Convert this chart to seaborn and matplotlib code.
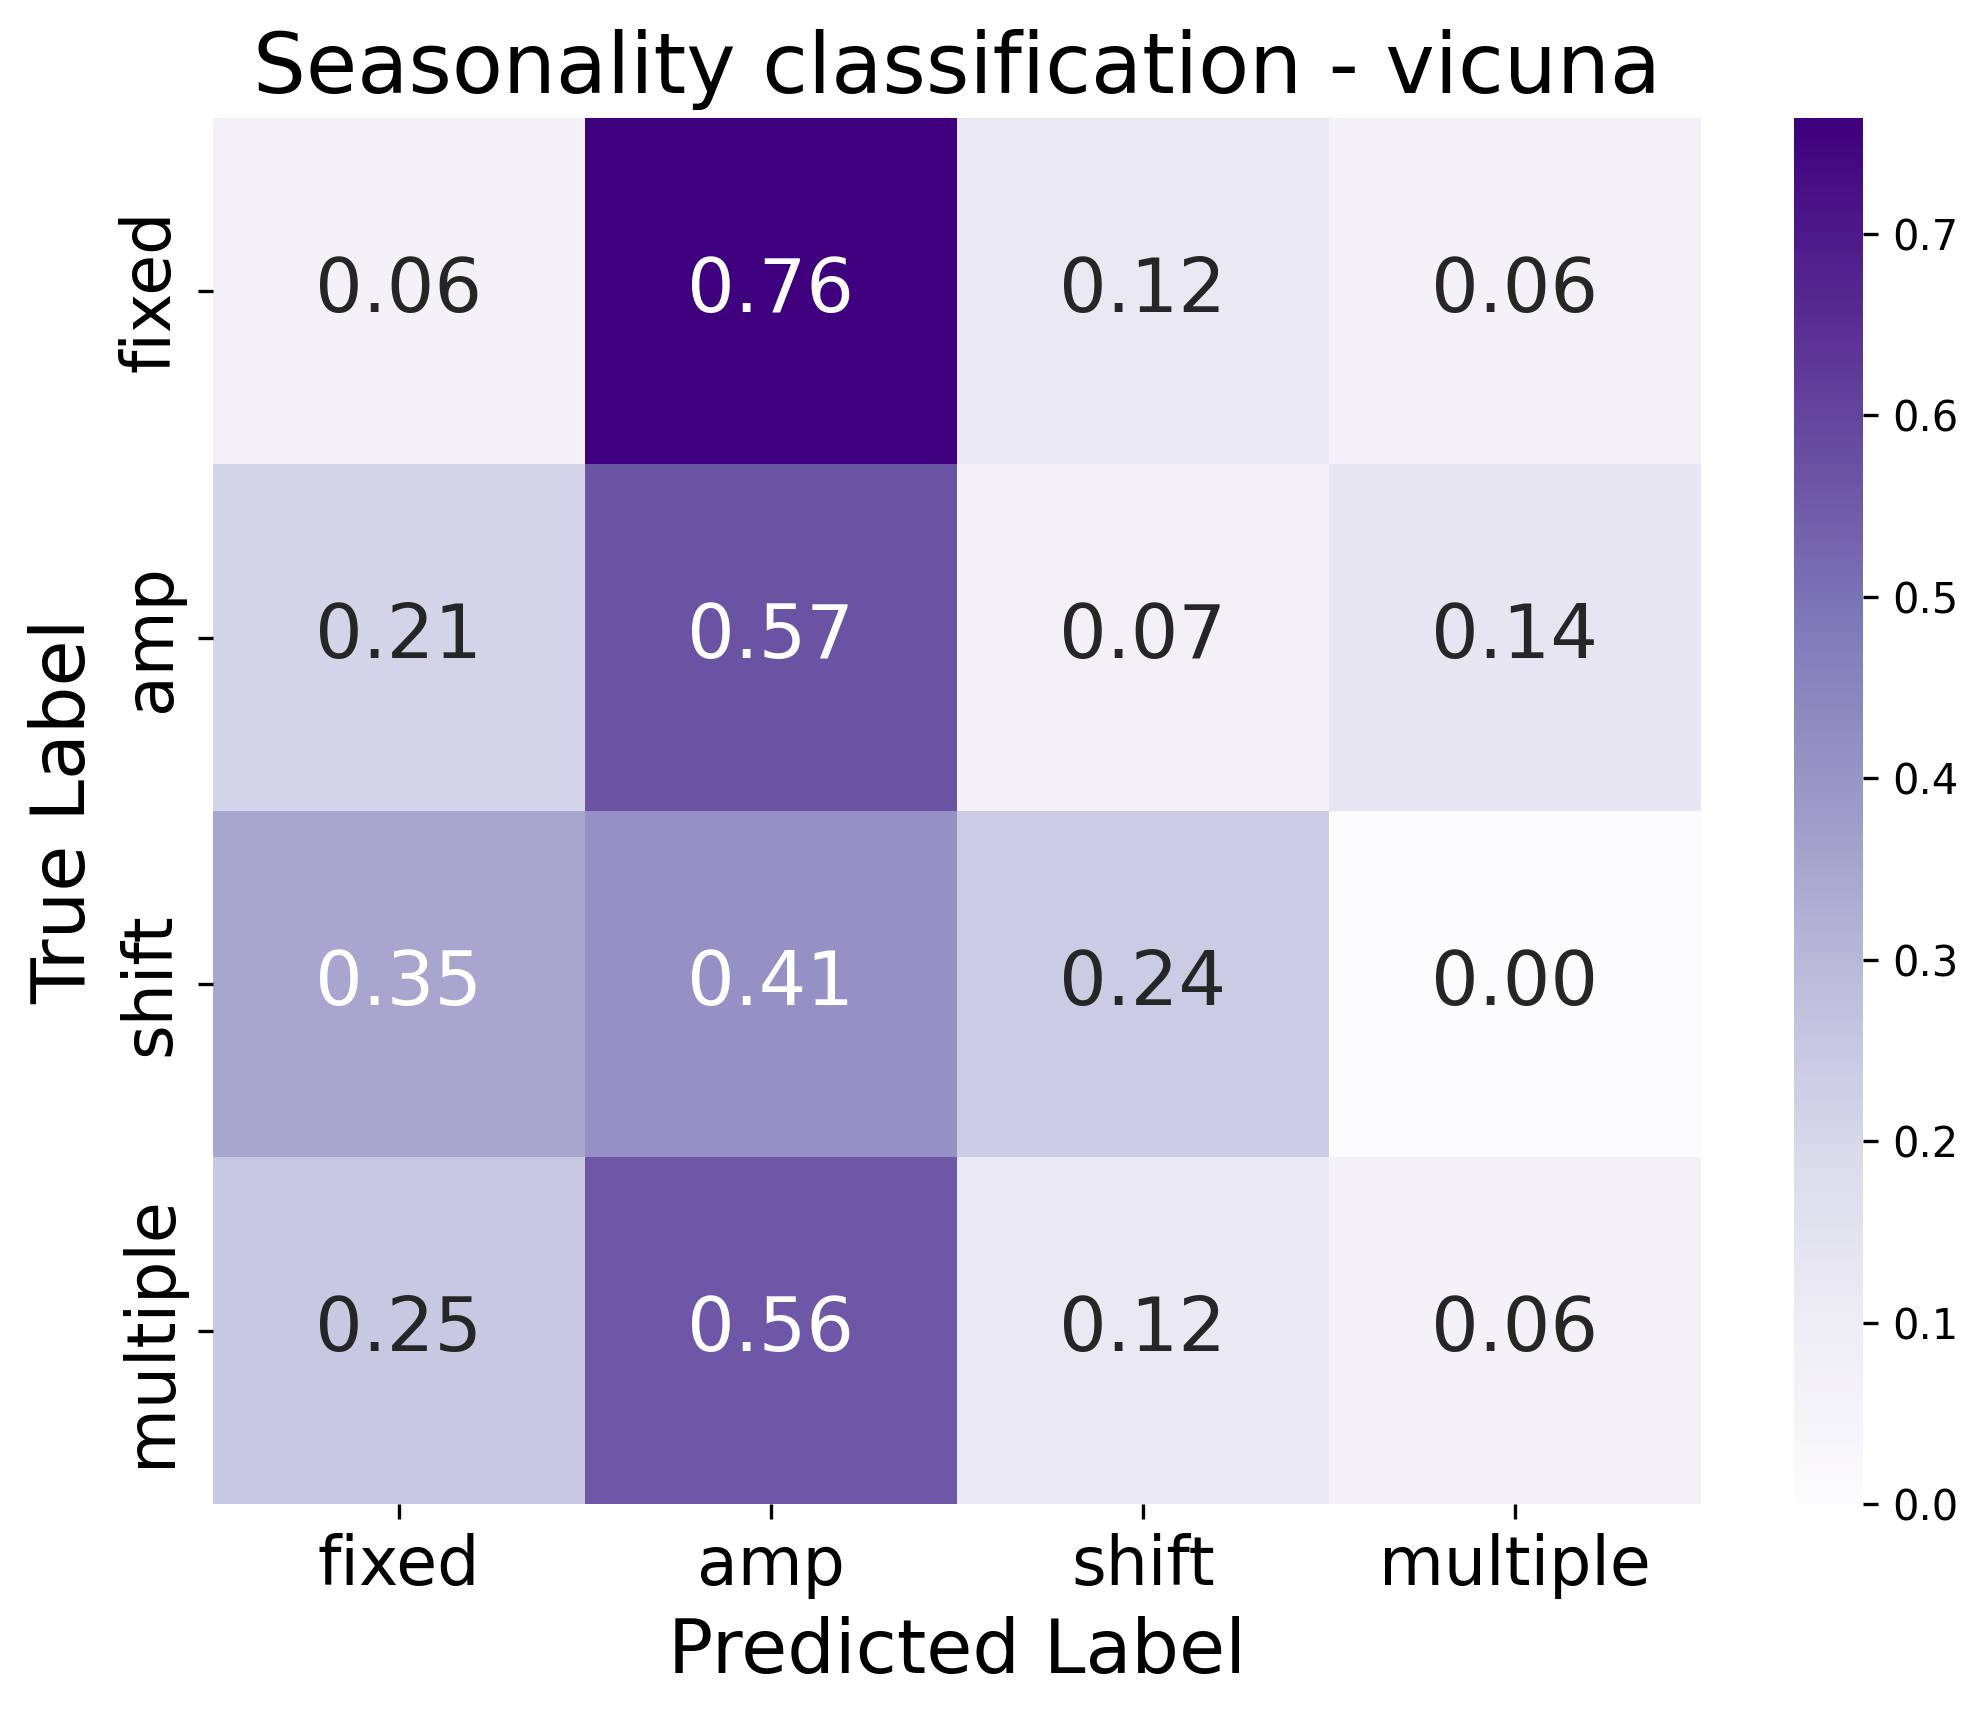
import numpy as np
import pandas as pd
import matplotlib
matplotlib.use("Agg")
import matplotlib.pyplot as plt
import seaborn as sns

# Class labels and normalised confusion matrix (rows = true, cols = predicted)
labels = ["fixed", "amp", "shift", "multiple"]
row_fixed = [0.06, 0.764, 0.12, 0.06]
row_amp = [0.21, 0.57, 0.07, 0.14]
row_shift = [0.35, 0.41, 0.24, 0.00]
row_multiple = [0.25, 0.56, 0.12, 0.06]

cm = pd.DataFrame([row_fixed, row_amp, row_shift, row_multiple],
                  index=labels, columns=labels)

fig = plt.figure(figsize=(1988 / 300, 1717 / 300), dpi=300)
ax = fig.add_axes([0.1071, 0.1241, 0.7485, 0.8072])
cax = fig.add_axes([0.9024, 0.1241, 0.0347, 0.8072])

sns.heatmap(cm, annot=True, fmt=".2f", cmap="Purples", ax=ax, cbar_ax=cax,
            annot_kws={"fontsize": 18})

ax.set_title("Seasonality classification - vicuna", fontsize=20)
ax.set_xlabel("Predicted Label", fontsize=18)
ax.set_ylabel("True Label", fontsize=18)
ax.tick_params(axis="both", labelsize=16)
plt.setp(ax.get_yticklabels(), rotation=90, va="center")
cax.tick_params(labelsize=10)

fig.savefig("out.png", dpi=300)
